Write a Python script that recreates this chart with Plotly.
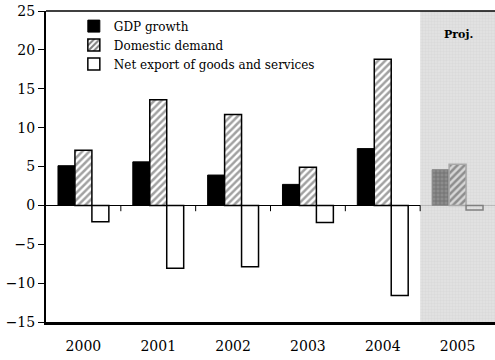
import plotly.graph_objects as go

years = ["2000", "2001", "2002", "2003", "2004", "2005"]
gdp_growth = [5.1, 5.6, 3.9, 2.7, 7.3, 4.6]
domestic_demand = [7.1, 13.6, 11.7, 4.9, 18.8, 5.3]
net_export = [-2.1, -8.1, -7.9, -2.2, -11.6, -0.6]

y_range = [-15, 25]
proj_year = "2005"
serif = "DejaVu Serif"

fig = go.Figure()

# shaded projection band behind the bars
fig.add_trace(go.Bar(
    x=[proj_year], y=[y_range[1] - y_range[0]], base=[y_range[0]], width=[1],
    marker=dict(color="#dadada", line=dict(width=0),
                pattern=dict(shape="+", fgcolor="#c6c6c6", bgcolor="#dcdcdc",
                             size=3, solidity=0.3)),
    opacity=0.85, showlegend=False, hoverinfo="skip", xaxis="x", yaxis="y",
))

proj = [y == proj_year for y in years]

fig.add_trace(go.Bar(
    name="GDP growth", x=years, y=gdp_growth, xaxis="x2", yaxis="y2",
    marker=dict(
        color=["#8c8c8c" if p else "black" for p in proj],
        line=dict(color=["#8c8c8c" if p else "black" for p in proj], width=1),
        pattern=dict(shape=["+" if p else "" for p in proj],
                     fgcolor=["#5e5e5e" if p else "black" for p in proj],
                     bgcolor=["#9a9a9a" if p else "black" for p in proj],
                     size=4, solidity=0.3),
    ),
))
fig.add_trace(go.Bar(
    name="Domestic demand", x=years, y=domestic_demand, xaxis="x2", yaxis="y2",
    marker=dict(
        color=["#d6d6d6" if p else "white" for p in proj],
        line=dict(color=["#a8a8a8" if p else "black" for p in proj], width=1.5),
        pattern=dict(shape="/",
                     fgcolor=["#a0a0a0" if p else "black" for p in proj],
                     bgcolor=["#d6d6d6" if p else "white" for p in proj],
                     size=5, solidity=0.5),
    ),
))
fig.add_trace(go.Bar(
    name="Net export of goods and services", x=years, y=net_export,
    xaxis="x2", yaxis="y2",
    marker=dict(
        color=["rgba(0,0,0,0)" if p else "white" for p in proj],
        line=dict(color=["#808080" if p else "black" for p in proj], width=1.5),
    ),
))

# small ticks on the zero line between the year groups
for i in range(len(years) - 1):
    fig.add_shape(type="line", xref="x", yref="y", x0=i + 0.5, x1=i + 0.5,
                  y0=0, y1=-0.75, line=dict(color="black", width=1))

# frame top edge
fig.add_shape(type="line", xref="paper", yref="paper", x0=0, x1=1, y0=1, y1=1,
              line=dict(color="black", width=1.5))

fig.add_annotation(x=0.9176, y=0.923, xref="paper", yref="paper",
                   xanchor="center", yanchor="middle", text="<b>Proj.</b>",
                   showarrow=False, font=dict(family=serif, size=11, color="black"))

fig.update_layout(
    width=495, height=360,
    margin=dict(l=46, r=0, t=11, b=38),
    paper_bgcolor="white", plot_bgcolor="white",
    barmode="group", bargap=0.32, bargroupgap=0,
    font=dict(family=serif, color="black"),
    legend=dict(x=0.062, y=0.998, xanchor="left", yanchor="top",
                bgcolor="rgba(0,0,0,0)", font=dict(family=serif, size=12),
                tracegroupgap=0, itemwidth=30),
    xaxis=dict(type="category", categoryorder="array", categoryarray=years,
               range=[-0.5, 5.5], showgrid=False, zeroline=False,
               showline=True, linecolor="black", linewidth=2.5,
               ticks="", tickfont=dict(family=serif, size=14),
               ticklabelstandoff=9),
    yaxis=dict(range=y_range, dtick=5, showgrid=False,
               zeroline=True, zerolinecolor="black", zerolinewidth=1,
               showline=True, linecolor="black", linewidth=2,
               ticks="outside", ticklen=6, tickcolor="black",
               tickfont=dict(family=serif, size=14)),
    xaxis2=dict(type="category", categoryorder="array", categoryarray=years,
                range=[-0.5, 5.5], overlaying="x", visible=False),
    yaxis2=dict(range=y_range, overlaying="y", visible=False),
)

fig.write_html("out.html")
